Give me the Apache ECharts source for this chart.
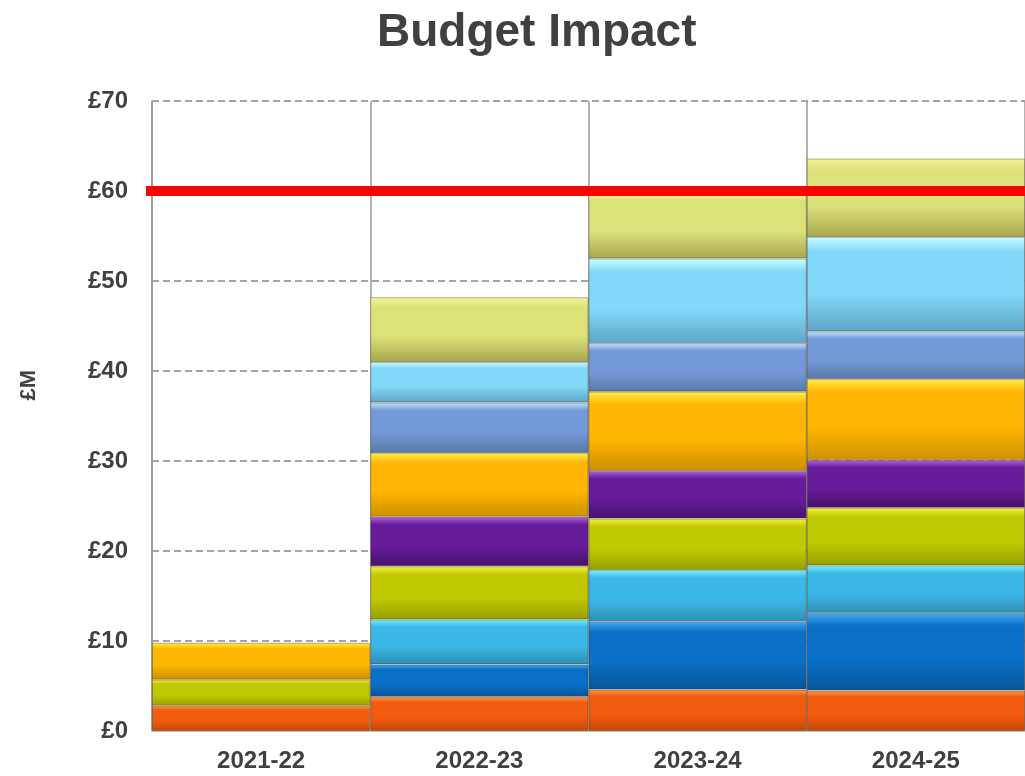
<!DOCTYPE html>
<html>
<head>
<meta charset="utf-8">
<script src="https://cdn.jsdelivr.net/npm/echarts@6/dist/echarts.min.js"></script>
<style>
html,body{margin:0;padding:0;background:#fff;}
#chart{width:1025px;height:776px;}
</style>
</head>
<body>
<div id="chart"></div>
<script>
// ---- Data ----
const categories = ['2021-22', '2022-23', '2023-24', '2024-25'];
const yTicks = [0, 10, 20, 30, 40, 50, 60, 70];
const budgetLimit = 60;

const orangeSeg   = [2.8, 3.8, 4.6, 4.5];
const blueSeg     = [0, 3.6, 7.6, 8.6];
const lightBlueSeg= [0, 5.0, 5.7, 5.3];
const greenSeg    = [2.9, 5.9, 5.7, 6.4];
const purpleSeg   = [0, 5.5, 5.3, 5.3];
const amberSeg    = [4.1, 7.1, 8.8, 9.0];
const steelSeg    = [0, 5.6, 5.4, 5.3];
const skySeg      = [0, 4.5, 9.4, 10.5];
const khakiSeg    = [0, 7.2, 7.5, 8.7];

// ---- Styles ----
const seriesDefs = [
  {name: 'Item 1', data: orangeSeg,    c: ['#ff9a48', '#f25c0e', '#c44806']},
  {name: 'Item 2', data: blueSeg,      c: ['#48aef2', '#0a6fc6', '#07559a']},
  {name: 'Item 3', data: lightBlueSeg, c: ['#78f4ff', '#3bb8e8', '#2f8eb4']},
  {name: 'Item 4', data: greenSeg,     c: ['#f4f43a', '#c0c802', '#96a000']},
  {name: 'Item 5', data: purpleSeg,    c: ['#b262e2', '#661c98', '#48106e']},
  {name: 'Item 6', data: amberSeg,     c: ['#fff048', '#ffb602', '#cc9000']},
  {name: 'Item 7', data: steelSeg,     c: ['#c4e4ff', '#7399d8', '#5878a6']},
  {name: 'Item 8', data: skySeg,       c: ['#c8ffff', '#82d8f8', '#5ea6c6']},
  {name: 'Item 9', data: khakiSeg,     c: ['#f4f498', '#dce27a', '#a6a64e']}
];

function grad(c) {
  return new echarts.graphic.LinearGradient(0, 0, 0, 1, [
    {offset: 0, color: c[0]},
    {offset: 0.16, color: c[1]},
    {offset: 0.6, color: c[1]},
    {offset: 1, color: c[2]}
  ]);
}

const font = '"Liberation Sans", Arial, Helvetica, sans-serif';
const textColor = '#404040';

const series = seriesDefs.map((s, i) => {
  const o = {
    name: s.name,
    type: 'bar',
    stack: 'total',
    barCategoryGap: 0,
    barGap: 0,
    data: s.data.map(v => v === 0 ? null : v),
    itemStyle: {
      color: grad(s.c),
      borderColor: 'rgba(60,40,20,0.35)',
      borderWidth: 1
    },
    emphasis: {disabled: true}
  };
  if (i === seriesDefs.length - 1) {
    o.markLine = {
      silent: true,
      symbol: ['none', 'none'],
      label: {show: false},
      lineStyle: {color: '#ff0000', width: 10, type: 'solid'},
      data: [[{x: 146, yAxis: budgetLimit}, {x: 1025, yAxis: budgetLimit}]],
      z: 10
    };
  }
  return o;
});

const chart = echarts.init(document.getElementById('chart'), null, {renderer: 'canvas'});
chart.setOption({
  animation: false,
  backgroundColor: '#ffffff',
  title: {
    text: 'Budget Impact',
    left: 372,
    top: 5,
    textStyle: {fontFamily: font, fontSize: 46, fontWeight: 'bold', color: textColor}
  },
  graphic: [{
    type: 'text',
    left: 18,
    top: 370,
    rotation: Math.PI / 2,
    style: {text: '£M', fontFamily: font, fontSize: 22, fontWeight: 'bold', fill: textColor}
  }],
  grid: {left: 152, right: 0, top: 101, bottom: 45, containLabel: false},
  xAxis: {
    type: 'category',
    data: categories,
    axisLine: {show: true, lineStyle: {color: '#c0c0c0', width: 2}},
    axisTick: {show: false},
    splitLine: {show: true, lineStyle: {color: '#999999', width: 1.5, type: 'solid'}},
    axisLabel: {fontFamily: font, fontSize: 24, fontWeight: 'bold', color: textColor, margin: 18}
  },
  yAxis: {
    type: 'value',
    min: yTicks[0],
    max: yTicks[yTicks.length - 1],
    interval: 10,
    axisLine: {show: true, lineStyle: {color: '#999999', width: 1.5}},
    axisTick: {show: false},
    splitLine: {show: true, lineStyle: {color: '#888888', width: 1.5, type: [7, 4]}},
    axisLabel: {
      fontFamily: font, fontSize: 24, fontWeight: 'bold', color: textColor, margin: 24,
      formatter: v => '£' + v
    }
  },
  series: series
});
</script>
</body>
</html>
